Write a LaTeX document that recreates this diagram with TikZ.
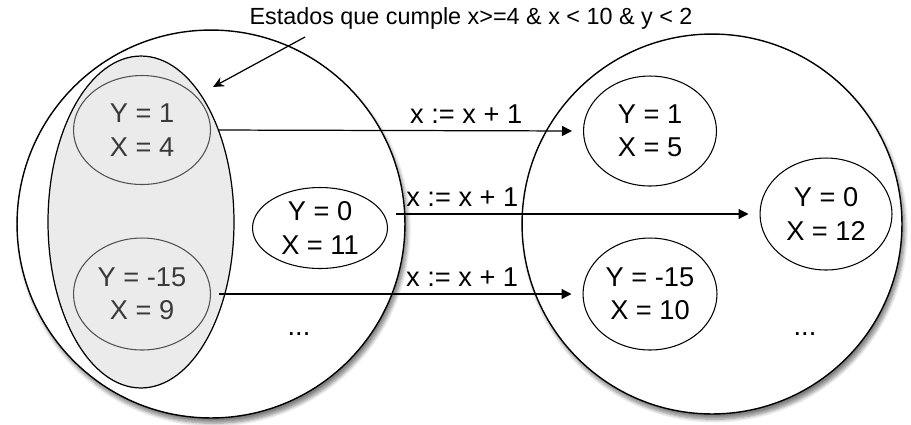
\documentclass[tikz,border=0pt]{standalone}
\usepackage{fontspec}
\setmainfont{Liberation Sans}
\usetikzlibrary{shapes.geometric}
\usetikzlibrary{shadows.blur}
\usetikzlibrary{arrows.meta,positioning}

\definecolor{relleno}{HTML}{EBEBEB}
\definecolor{trazogris}{HTML}{505050}
\definecolor{textogris}{HTML}{3A3A3A}

\tikzset{
    mundo/.style={circle, draw, line width=0.8pt, fill=white, inner sep=0pt,
        blur shadow={shadow xshift=1.5pt, shadow yshift=-3pt, shadow blur steps=6, shadow opacity=50}},
    estado/.style={ellipse, draw, line width=0.6pt, fill=white, align=center, inner sep=0pt},
    marcado/.style={estado, draw=trazogris, fill=relleno, text=textogris},
    paso/.style={-{Triangle[length=2mm, width=2mm]}, line width=0.7pt, shorten <=0.16cm, shorten >=0.22cm},
    etiqueta/.style={above, inner sep=4pt},
}

\begin{document}
\begin{tikzpicture}[x=0.02cm, y=-0.02cm, font=\fontsize{15.5}{19}\selectfont]

    \useasboundingbox (0, 0) rectangle (911, 424);

    \begin{scope}
        \node[mundo, minimum size=7.76cm] (izq) at (211, 224) {};
        \node[estado, line width=0.7pt, fill=relleno, minimum width=3.72cm, minimum height=6.64cm] (grupo) at (141, 222) {};

        \node[marcado, minimum width=2.74cm, minimum height=2.18cm] (s14) at (142, 130) {Y = 1\\X = 4};
        \node[marcado, minimum width=2.74cm, minimum height=2.24cm] (s159) at (142, 294) {Y = -15\\X = 9};
        \node[estado, minimum width=2.7cm, minimum height=1.62cm] (s011) at (320, 228) {Y = 0\\X = 11};
        \node (dots1) at (299, 334) {...};
    \end{scope}

    \begin{scope}
        \node[mundo, minimum size=7.6cm] (der) at (712, 224) {};

        \node[estado, minimum width=2.66cm, minimum height=2.2cm] (s15) at (650, 131) {Y = 1\\X = 5};
        \node[estado, minimum width=2.64cm, minimum height=2.24cm] (s012) at (826, 214) {Y = 0\\X = 12};
        \node[estado, minimum width=2.68cm, minimum height=2.24cm] (s1510) at (650, 294) {Y = -15\\X = 10};
        \node (dots2) at (805, 334) {...};
    \end{scope}

    \draw[paso] (s14.east) -- (s15.west) node[etiqueta, pos=0.686] {x := x + 1};
    \draw[paso] (s011.east |- s012.west) -- (s012.west) node[etiqueta, pos=0.2] {x := x + 1};
    \draw[paso] (s159.east) -- (s1510.west) node[etiqueta, pos=0.676] {x := x + 1};

    \node[font=\fontsize{13.3}{15}\selectfont] (nota) at (471, 18) {Estados que cumple x>=4 \& x < 10 \& y < 2};
    \coordinate (nota-pie) at (305, 37);
    \coordinate (nota-punta) at (213, 87);
    \draw[-{Stealth[length=2.2mm, width=2mm]}, line width=0.7pt] (nota-pie) -- (nota-punta);

\end{tikzpicture}
\end{document}
